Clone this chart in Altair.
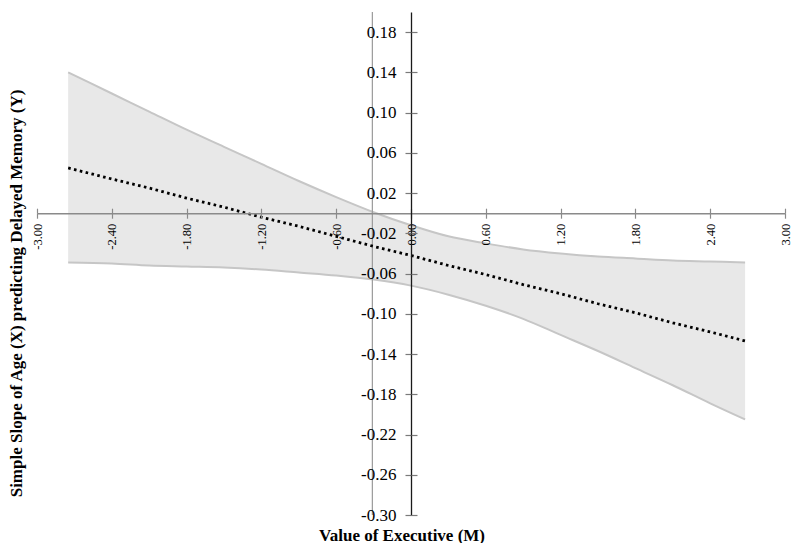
import altair as alt
import pandas as pd

# ---- data ----
executive = [-2.75, -2.4, -2.1, -1.8, -1.5, -1.2, -0.9, -0.6, -0.3, 0.0,
             0.3, 0.6, 0.9, 1.2, 1.5, 1.8, 2.1, 2.4, 2.68]
simple_slope = [0.045, 0.034, 0.025, 0.015, 0.006, -0.004, -0.013, -0.023, -0.033, -0.042,
                -0.052, -0.061, -0.071, -0.080, -0.090, -0.099, -0.109, -0.118, -0.127]
ci_upper = [0.140, 0.119, 0.101, 0.083, 0.066, 0.049, 0.032, 0.016, 0.001, -0.012,
            -0.023, -0.030, -0.036, -0.040, -0.043, -0.045, -0.047, -0.048, -0.049]
ci_lower = [-0.049, -0.050, -0.052, -0.053, -0.054, -0.056, -0.059, -0.062, -0.066, -0.072,
            -0.081, -0.092, -0.105, -0.121, -0.137, -0.154, -0.171, -0.189, -0.205]
jn_point = [-0.31]

x_ticks = [-3.0, -2.4, -1.8, -1.2, -0.6, 0.0, 0.6, 1.2, 1.8, 2.4, 3.0]
y_ticks = [-0.30, -0.26, -0.22, -0.18, -0.14, -0.10, -0.06, -0.02,
           0.02, 0.06, 0.10, 0.14, 0.18]
x_domain = [-3.0, 3.0]
y_domain = [-0.30, 0.20]

x_title = "Value of Executive (M)"
y_title = "Simple Slope of Age (X) predicting Delayed Memory (Y)"

df = pd.DataFrame({"x": executive, "slope": simple_slope,
                   "lo": ci_lower, "hi": ci_upper})
df_jn = pd.DataFrame({"x": jn_point, "top": [y_domain[1]], "bot": [y_domain[0]]})

# ---- layout ----
W, H = 748, 503
PAD_L, PAD_T, PAD_R, PAD_B = 29, 4, 7, 28
y0 = H * y_domain[1] / (y_domain[1] - y_domain[0])       # pixel row of y = 0
x0 = W * (0 - x_domain[0]) / (x_domain[1] - x_domain[0])  # pixel col of x = 0
FONT = "Liberation Serif"
LABEL_EXPR = "(datum.value < 0 ? '-' : '') + format(abs(datum.value), '.2f')"

xs = alt.Scale(domain=x_domain, nice=False, zero=False)
ys = alt.Scale(domain=y_domain, nice=False, zero=False)

x_axis_main = alt.Axis(
    orient="bottom", offset=-(H - y0), values=x_ticks, labelExpr=LABEL_EXPR,
    labelAngle=270, labelFont=FONT, labelFontSize=12.5, labelColor="#000000",
    labelPadding=5, labelFlush=False, labelOverlap=False,
    tickSize=5, tickColor="#8a8a8a", tickWidth=1.2,
    domainColor="#8a8a8a", domainWidth=1.5, grid=False, zindex=1,
    title=x_title, titleFont=FONT, titleFontSize=17, titleFontWeight="bold",
    titleColor="#000000", titleX=401.5 - (8 + PAD_L), titleY=H + 25 - y0,
    titleAlign="center", titleBaseline="alphabetic", titleAngle=0,
)
y_axis_main = alt.Axis(
    orient="left", offset=-x0, values=y_ticks, labelExpr=LABEL_EXPR,
    labelFont=FONT, labelFontSize=17, labelColor="#000000",
    labelPadding=9, labelOverlap=False, labelFlush=False,
    tickSize=6, tickColor="#7a7a7a", tickWidth=1.2,
    domainColor="#1a1a1a", domainWidth=1.3, grid=False, zindex=1,
    title=y_title, titleFont=FONT, titleFontSize=17, titleFontWeight="bold",
    titleColor="#000000", titleX=21.5 - (8 + PAD_L) - x0, titleY=293 - (8 + PAD_T),
    titleAlign="center", titleBaseline="alphabetic", titleAngle=270,
)
x_axis_top = alt.Axis(
    orient="top", offset=-y0, values=x_ticks, labels=False, domain=False,
    tickSize=5, tickColor="#8a8a8a", tickWidth=1.2, grid=False, title=None, zindex=1,
)
y_axis_right = alt.Axis(
    orient="right", offset=-(W - x0), values=y_ticks, labels=False, domain=False,
    tickSize=6, tickColor="#7a7a7a", tickWidth=1.2, grid=False, title=None, zindex=1,
)

band = alt.Chart(df).mark_area(color="#e8e8e8", opacity=1, interpolate="monotone").encode(
    x=alt.X("x:Q", scale=xs, axis=x_axis_main),
    y=alt.Y("lo:Q", scale=ys, axis=y_axis_main),
    y2="hi:Q",
)
upper = alt.Chart(df).mark_line(color="#c6c6c6", strokeWidth=2, interpolate="monotone").encode(
    x=alt.X("x:Q", scale=xs, axis=None),
    y=alt.Y("hi:Q", scale=ys, axis=None),
)
lower = alt.Chart(df).mark_line(color="#c6c6c6", strokeWidth=2, interpolate="monotone").encode(
    x=alt.X("x:Q", scale=xs, axis=None),
    y=alt.Y("lo:Q", scale=ys, axis=None),
)
jn = alt.Chart(df_jn).mark_rule(color="#9a9a9a", strokeWidth=1.2).encode(
    x=alt.X("x:Q", scale=xs, axis=x_axis_top),
    y=alt.Y("top:Q", scale=ys, axis=y_axis_right),
    y2="bot:Q",
)
slope_line = alt.Chart(df).mark_line(color="#000000", strokeWidth=2.8,
                                     strokeDash=[2.6, 3.4]).encode(
    x=alt.X("x:Q", scale=xs, axis=None),
    y=alt.Y("slope:Q", scale=ys, axis=None),
)

chart = alt.layer(band, upper, lower, jn, slope_line).resolve_axis(
    x="independent", y="independent"
).properties(
    width=W, height=H,
    autosize=alt.AutoSizeParams(type="none"),
    padding={"left": PAD_L, "top": PAD_T, "right": PAD_R, "bottom": PAD_B},
    background="#ffffff",
).configure_view(stroke=None)

chart.save("out.html", embed_options={"renderer": "svg", "actions": False})
